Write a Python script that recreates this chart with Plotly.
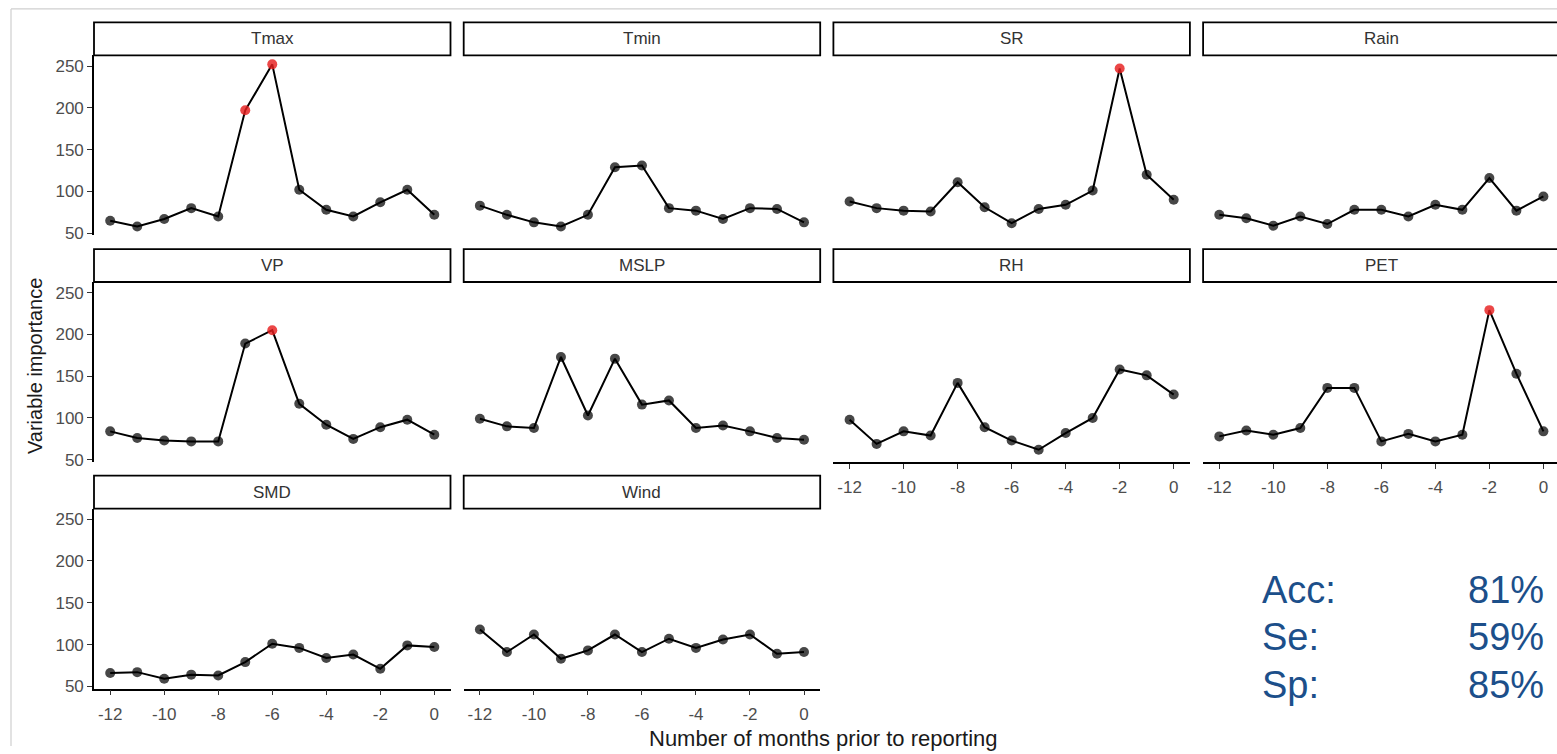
import plotly.graph_objects as go

# ---------------- data ----------------
months = list(range(-12, 1))
variables = ["Tmax", "Tmin", "SR", "Rain", "VP", "MSLP", "RH", "PET", "SMD", "Wind"]
tmax = [65, 58, 67, 80, 70, 197, 252, 102, 78, 70, 87, 102, 72]
tmin = [83, 72, 63, 58, 72, 129, 131, 80, 77, 67, 80, 79, 63]
sr = [88, 80, 77, 76, 111, 81, 62, 79, 84, 101, 247, 120, 90]
rain = [72, 68, 59, 70, 61, 78, 78, 70, 84, 78, 116, 77, 94]
vp = [84, 76, 73, 72, 72, 189, 205, 117, 92, 75, 89, 98, 80]
mslp = [99, 90, 88, 173, 103, 171, 116, 121, 88, 91, 84, 76, 74]
rh = [98, 69, 84, 79, 142, 89, 73, 62, 82, 100, 158, 151, 128]
pet = [78, 85, 80, 88, 136, 136, 72, 81, 72, 80, 229, 153, 84]
smd = [66, 67, 59, 64, 63, 79, 101, 96, 84, 88, 71, 99, 97]
wind = [118, 91, 112, 83, 93, 112, 91, 107, 96, 106, 112, 89, 91]
series = [tmax, tmin, sr, rain, vp, mslp, rh, pet, smd, wind]
highlight_tmax = [-7, -6]
highlight_sr = [-2]
highlight_vp = [-6]
highlight_pet = [-2]
highlights = {"Tmax": highlight_tmax, "SR": highlight_sr, "VP": highlight_vp, "PET": highlight_pet}
y_ticks = [50, 100, 150, 200, 250]
x_ticks = [-12, -10, -8, -6, -4, -2, 0]
stat_labels = ["Acc:", "Se:", "Sp:"]
stat_values = ["81%", "59%", "85%"]

# ---------------- layout geometry (pixels) ----------------
W, H = 1557, 754
def fx(x):
    return x / W
def fy(y):
    return 1 - y / H

col_left0, col_step, col_w = 94.0, 369.7, 356.5
row_strip_top0, row_strip_bot0, row_panel_bot0, row_step = 22.7, 56.0, 238.0, 229.0
px_per_unit = col_w / 13.2
y_range = [47.3, 262.7]

fig = go.Figure()
shapes = []
annotations = []
layout_axes = {}

has_y_axis = {0, 4, 8}
has_x_axis = {8, 9, 6, 7}

for i, (name, vals) in enumerate(zip(variables, series)):
    r, c = divmod(i, 4)
    left = col_left0 + c * col_step
    full_right = left + col_w
    right = full_right
    xr = [-12.6, 0.6]
    if right > W:
        xr = [-12.6, 0.6 - (right - W) / px_per_unit]
        right = W
    top = row_strip_bot0 + r * row_step
    bot = row_panel_bot0 + r * row_step
    stop = row_strip_top0 + r * row_step

    ax = "" if i == 0 else str(i + 1)
    xa = "x" + ax
    ya = "y" + ax

    showx = i in has_x_axis
    showy = i in has_y_axis
    layout_axes["xaxis" + ax] = dict(
        domain=[fx(left), fx(right)], anchor=ya, range=xr,
        showgrid=False, zeroline=False,
        showline=showx, linecolor="black", linewidth=1.6,
        ticks="outside" if showx else "", ticklen=5, tickwidth=1.3, tickcolor="#333333",
        tickvals=x_ticks, ticktext=[str(v) for v in x_ticks],
        showticklabels=showx, ticklabelstandoff=4,
        tickfont=dict(size=17, color="#4d4d4d"),
    )
    layout_axes["yaxis" + ax] = dict(
        domain=[fy(bot), fy(top)], anchor=xa, range=y_range,
        showgrid=False, zeroline=False,
        showline=showy, linecolor="black", linewidth=1.6,
        ticks="outside" if showy else "", ticklen=5, tickwidth=1.3, tickcolor="#333333",
        tickvals=y_ticks, showticklabels=showy,
        tickfont=dict(size=17, color="#4d4d4d"),
    )

    fig.add_trace(go.Scatter(
        x=months, y=vals, mode="lines", xaxis=xa, yaxis=ya,
        line=dict(color="black", width=2), showlegend=False, hoverinfo="skip"))
    hl = highlights.get(name, [])
    colors = ["rgba(230,30,30,0.82)" if m in hl else "rgba(0,0,0,0.72)" for m in months]
    fig.add_trace(go.Scatter(
        x=months, y=vals, mode="markers", xaxis=xa, yaxis=ya,
        marker=dict(color=colors, size=10, line=dict(width=0)),
        showlegend=False, name=name))

    # strip box (the right-most column runs past the picture edge)
    shapes.append(dict(type="rect", xref="paper", yref="paper",
                       x0=fx(left), x1=fx(full_right), y0=fy(top), y1=fy(stop),
                       line=dict(color="black", width=1.8), fillcolor="white", layer="below"))
    annotations.append(dict(x=fx((left + full_right) / 2), y=fy((top + stop) / 2),
                            xref="paper", yref="paper",
                            text=name, showarrow=False, xanchor="center", yanchor="middle",
                            font=dict(size=17, color="#333333")))

# outer faint frame
shapes.append(dict(type="line", xref="paper", yref="paper", x0=fx(11), x1=fx(11), y0=fy(9), y1=0,
                   line=dict(color="#cfcfcf", width=1.2)))
shapes.append(dict(type="line", xref="paper", yref="paper", x0=fx(11), x1=1, y0=fy(9), y1=fy(9),
                   line=dict(color="#cfcfcf", width=1.2)))

# axis titles
annotations.append(dict(x=fx(823), y=fy(746), xref="paper", yref="paper",
                        text="Number of months prior to reporting", showarrow=False,
                        font=dict(size=22, color="#1a1a1a"), xanchor="center", yanchor="middle"))
annotations.append(dict(x=fx(35), y=fy(370), xref="paper", yref="paper",
                        text="Variable importance", showarrow=False, textangle=-90,
                        font=dict(size=20, color="#1a1a1a"), xanchor="center", yanchor="middle"))

# stats text
stat_y = [596, 644, 692]
for lab, val, yy in zip(stat_labels, stat_values, stat_y):
    annotations.append(dict(x=fx(1260), y=fy(yy), xref="paper", yref="paper", text=lab,
                            showarrow=False, xanchor="left", yanchor="middle",
                            font=dict(size=38, color="#1c4f8a")))
    annotations.append(dict(x=fx(1546), y=fy(yy), xref="paper", yref="paper", text=val,
                            showarrow=False, xanchor="right", yanchor="middle",
                            font=dict(size=38, color="#1c4f8a")))

fig.update_layout(
    width=W, height=H,
    margin=dict(l=0, r=0, t=0, b=0),
    paper_bgcolor="white", plot_bgcolor="rgba(0,0,0,0)",
    font=dict(family="Liberation Sans, Arial, sans-serif"),
    shapes=shapes, annotations=annotations,
    showlegend=False,
    **layout_axes,
)

fig.write_html(
    "out.html",
    config={"displayModeBar": False},
    post_script="document.body.style.margin='0';document.body.style.padding='0';document.body.style.overflow='hidden';",
)
